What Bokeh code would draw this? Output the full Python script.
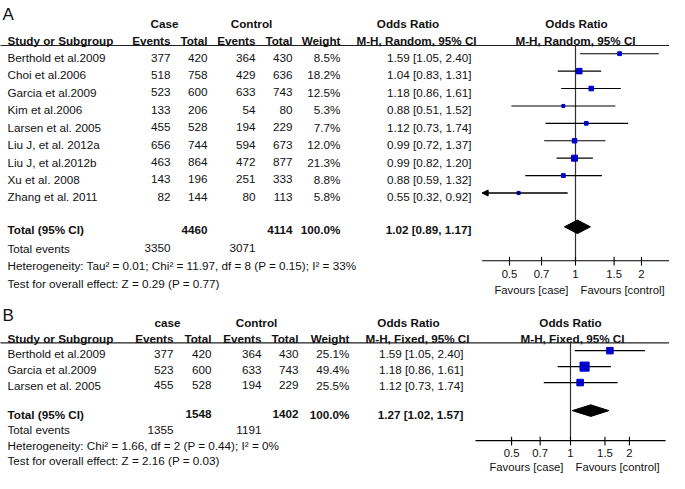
import math
from bokeh.plotting import figure
from bokeh.models import Range1d, LogScale, ColumnDataSource, Arrow, NormalHead
from bokeh.core.properties import value, field
from bokeh.embed import file_html
from bokeh.resources import INLINE

# ---------------- data: panel A (random effects) ----------------
studies_A = ["Berthold et al.2009", "Choi et al.2006", "Garcia et al.2009", "Kim et al.2006",
             "Larsen et al. 2005", "Liu J, et al. 2012a", "Liu J, et al.2012b", "Xu et al. 2008",
             "Zhang et al. 2011"]
case_events_A = [377, 518, 523, 133, 455, 656, 463, 143, 82]
case_total_A = [420, 758, 600, 206, 528, 744, 864, 196, 144]
ctrl_events_A = [364, 429, 633, 54, 194, 594, 472, 251, 80]
ctrl_total_A = [430, 636, 743, 80, 229, 673, 877, 333, 113]
weight_A = [8.5, 18.2, 12.5, 5.3, 7.7, 12.0, 21.3, 8.8, 5.8]
or_A = [1.59, 1.04, 1.18, 0.88, 1.12, 0.99, 0.99, 0.88, 0.55]
lo_A = [1.05, 0.83, 0.86, 0.51, 0.73, 0.72, 0.82, 0.59, 0.32]
hi_A = [2.40, 1.31, 1.61, 1.52, 1.74, 1.37, 1.20, 1.32, 0.92]
total_A = dict(case_total=4460, ctrl_total=4114, weight=100.0, est=1.02, lo=0.89, hi=1.17,
               case_events=3350, ctrl_events=3071)
het_A = "Heterogeneity: Tau\u00b2 = 0.01; Chi\u00b2 = 11.97, df = 8 (P = 0.15); I\u00b2 = 33%"
test_A = "Test for overall effect: Z = 0.29 (P = 0.77)"
method_A = "M-H, Random, 95% CI"

# ---------------- data: panel B (fixed effect) ----------------
studies_B = ["Berthold et al.2009", "Garcia et al.2009", "Larsen et al. 2005"]
case_events_B = [377, 523, 455]
case_total_B = [420, 600, 528]
ctrl_events_B = [364, 633, 194]
ctrl_total_B = [430, 743, 229]
weight_B = [25.1, 49.4, 25.5]
or_B = [1.59, 1.18, 1.12]
lo_B = [1.05, 0.86, 0.73]
hi_B = [2.40, 1.61, 1.74]
total_B = dict(case_total=1548, ctrl_total=1402, weight=100.0, est=1.27, lo=1.02, hi=1.57,
               case_events=1355, ctrl_events=1191)
het_B = "Heterogeneity: Chi\u00b2 = 1.66, df = 2 (P = 0.44); I\u00b2 = 0%"
test_B = "Test for overall effect: Z = 2.16 (P = 0.03)"
method_B = "M-H, Fixed, 95% CI"

tick_values = [0.5, 0.7, 1, 1.5, 2]
tick_labels = ["0.5", "0.7", "1", "1.5", "2"]
axis_limits_A = [0.375, 2.67]
axis_limits_B = [0.327, 3.06]
favours = ["Favours [case]", "Favours [control]"]

# ---------------- figure ----------------
X0, X1 = 5, 674          # horizontal frame extent (layout units)
p = figure(width=669, height=473, x_range=Range1d(X0, X1), y_range=Range1d(488, -1),
           output_backend="svg", toolbar_location=None, x_axis_type=None, y_axis_type=None,
           min_border=0)
p.outline_line_color = None
p.background_fill_color = "white"


def log_range(one_at, px_per_ln):
    return Range1d(math.exp((X0 - one_at) / px_per_ln), math.exp((X1 - one_at) / px_per_ln))


p.extra_x_ranges = {"orA": log_range(580, 95.2), "orB": log_range(575, 85.0)}
p.extra_x_scales = {"orA": LogScale(), "orB": LogScale()}

FONT = value("Liberation Sans")
TXT = "#111111"
FS = "11.7px"

texts = dict(x=[], y=[], text=[], align=[], style=[], size=[])
ftexts = {"orA": dict(x=[], y=[], text=[], align=[], xo=[]), "orB": dict(x=[], y=[], text=[], align=[], xo=[])}


def T(x, y, s, align="left", bold=False, size=FS):
    texts["x"].append(x); texts["y"].append(y); texts["text"].append(s)
    texts["align"].append(align); texts["style"].append("bold" if bold else "normal")
    texts["size"].append(size)


def panel(label, label_y, case_word, rng, studies, ce, ct, xe, xt, w, est, lo, hi, tot,
          het, test, method, limits, cols, y):
    (c_ev, c_tot, x_ev, x_tot, c_w, c_or, or_hdr, mh_hdr, f_hdr1, f_hdr2, case_c, ctrl_c, line_r) = cols
    T(7, label_y, label, size="17px")
    # headers
    T(case_c, y["h1"], case_word, "center", True)
    T(ctrl_c, y["h1"], "Control", "center", True)
    T(or_hdr, y["h1"], "Odds Ratio", "center", True)
    T(f_hdr1, y["h1"], "Odds Ratio", "center", True)
    T(12, y["h2"], "Study or Subgroup", "left", True)
    T(c_ev, y["h2"], "Events", "right", True)
    T(c_tot, y["h2"], "Total", "right", True)
    T(x_ev, y["h2"], "Events", "right", True)
    T(x_tot, y["h2"], "Total", "right", True)
    T(c_w, y["h2"], "Weight", "right", True)
    T(mh_hdr, y["h2"], method, "center", True)
    T(f_hdr2, y["h2"], method, "center", True)
    p.segment(x0=[3], x1=[line_r], y0=[y["line"]], y1=[y["line"]], line_color="#222222", line_width=1.2)
    ys = [y["row0"] + i * y["step"] for i in range(len(studies))]
    for i, s in enumerate(studies):
        T(12, ys[i], s)
        T(c_ev, ys[i], str(ce[i]), "right")
        T(c_tot, ys[i], str(ct[i]), "right")
        T(x_ev, ys[i], str(xe[i]), "right")
        T(x_tot, ys[i], str(xt[i]), "right")
        T(c_w, ys[i], f"{w[i]:.1f}%", "right")
        T(c_or, ys[i], f"{est[i]:.2f} [{lo[i]:.2f}, {hi[i]:.2f}]", "right")
    T(12, y["tot"], "Total (95% CI)", "left", True)
    T(c_tot, y["tot"], str(tot["case_total"]), "right", True)
    T(x_tot, y["tot"], str(tot["ctrl_total"]), "right", True)
    T(c_w, y["tot"], f"{tot['weight']:.1f}%", "right", True)
    T(c_or, y["tot"], f"{tot['est']:.2f} [{tot['lo']:.2f}, {tot['hi']:.2f}]", "right", True)
    T(12, y["ev"], "Total events")
    T(c_ev, y["ev"], str(tot["case_events"]), "right")
    T(x_ev, y["ev"], str(tot["ctrl_events"]), "right")
    T(12, y["het"], het)
    T(12, y["test"], test)

    # forest: vertical line of no effect
    p.segment(x0=[1], x1=[1], y0=[y["line"]], y1=[y["axis"]], x_range_name=rng,
              line_color="#333333", line_width=1.2)
    # CIs (clipped to the axis limits, arrow where clipped)
    my = [v - y["mark_off"] for v in ys]
    x0s = [max(l, limits[0]) for l in lo]
    x1s = [min(h, limits[1]) for h in hi]
    p.segment(x0=x0s, x1=x1s, y0=my, y1=my, x_range_name=rng, line_color="black", line_width=1.1)
    for i in range(len(studies)):
        if lo[i] < limits[0]:
            p.add_layout(Arrow(end=NormalHead(size=6, fill_color="black", line_color="black"),
                               x_start=x1s[i], x_end=limits[0], y_start=my[i], y_end=my[i],
                               x_range_name=rng, line_color="black", line_width=1.1))
    sizes = [1.3 * math.sqrt(v) for v in w]
    p.scatter(x=est, y=my, size=sizes, marker="square", x_range_name=rng,
              fill_color="#0000cc", line_color="#0000cc")
    # diamond
    dy = y["dia"]
    hh = y["dia_h"]
    p.patch(x=[tot["lo"], tot["est"], tot["hi"], tot["est"]], y=[dy, dy - hh, dy, dy + hh],
            x_range_name=rng, fill_color="black", line_color="black")
    # axis
    p.segment(x0=[limits[0]], x1=[limits[1]], y0=[y["axis"]], y1=[y["axis"]], x_range_name=rng,
              line_color="black", line_width=1.1)
    p.segment(x0=tick_values, x1=tick_values, y0=[y["axis"] - 4] * len(tick_values),
              y1=[y["axis"] + 5] * len(tick_values), x_range_name=rng, line_color="black", line_width=1.1)
    ft = ftexts[rng]
    for v, s in zip(tick_values, tick_labels):
        ft["x"].append(v); ft["y"].append(y["tick"]); ft["text"].append(s); ft["align"].append("center"); ft["xo"].append(0)
    ft["x"].append(1); ft["y"].append(y["fav"]); ft["text"].append(favours[0]); ft["align"].append("right"); ft["xo"].append(-7)
    ft["x"].append(1); ft["y"].append(y["fav"]); ft["text"].append(favours[1]); ft["align"].append("left"); ft["xo"].append(5)


panel("A", 13, "Case", "orA", studies_A, case_events_A, case_total_A, ctrl_events_A, ctrl_total_A,
      weight_A, or_A, lo_A, hi_A, total_A, het_A, test_A, method_A, axis_limits_A,
      (175, 212, 260, 297, 345, 476, 412.5, 421, 581, 580, 169, 256, 684),
      dict(h1=23, h2=40, line=45.5, row0=58, step=18, mark_off=4, tot=236, dia=233, dia_h=7,
           ev=255, het=273, test=292, axis=268, tick=282, fav=298))

panel("B", 325, "case", "orB", studies_B, case_events_B, case_total_B, ctrl_events_B, ctrl_total_B,
      weight_B, or_B, lo_B, hi_B, total_B, het_B, test_B, method_B, axis_limits_B,
      (178, 216, 266, 303, 354, 468, 413, 422, 575, 577, 172, 261, 680),
      dict(h1=332, h2=348, line=353, row0=364, step=16.5, mark_off=3, tot=427, dia=423, dia_h=6,
           ev=443, het=459, test=475, axis=454, tick=467, fav=481))

src = ColumnDataSource(texts)
p.text(x="x", y="y", text="text", source=src, text_font=FONT, text_font_size=field("size"),
       text_align=field("align"), text_font_style=field("style"), text_baseline="middle",
       text_color=TXT)
for rng, ft in ftexts.items():
    p.text(x="x", y="y", text="text", x_offset="xo", source=ColumnDataSource(ft), x_range_name=rng,
           text_font=FONT, text_font_size="11.3px", text_align=field("align"), text_baseline="middle",
           text_color=TXT)

open("out.html", "w").write(file_html(p, INLINE))
